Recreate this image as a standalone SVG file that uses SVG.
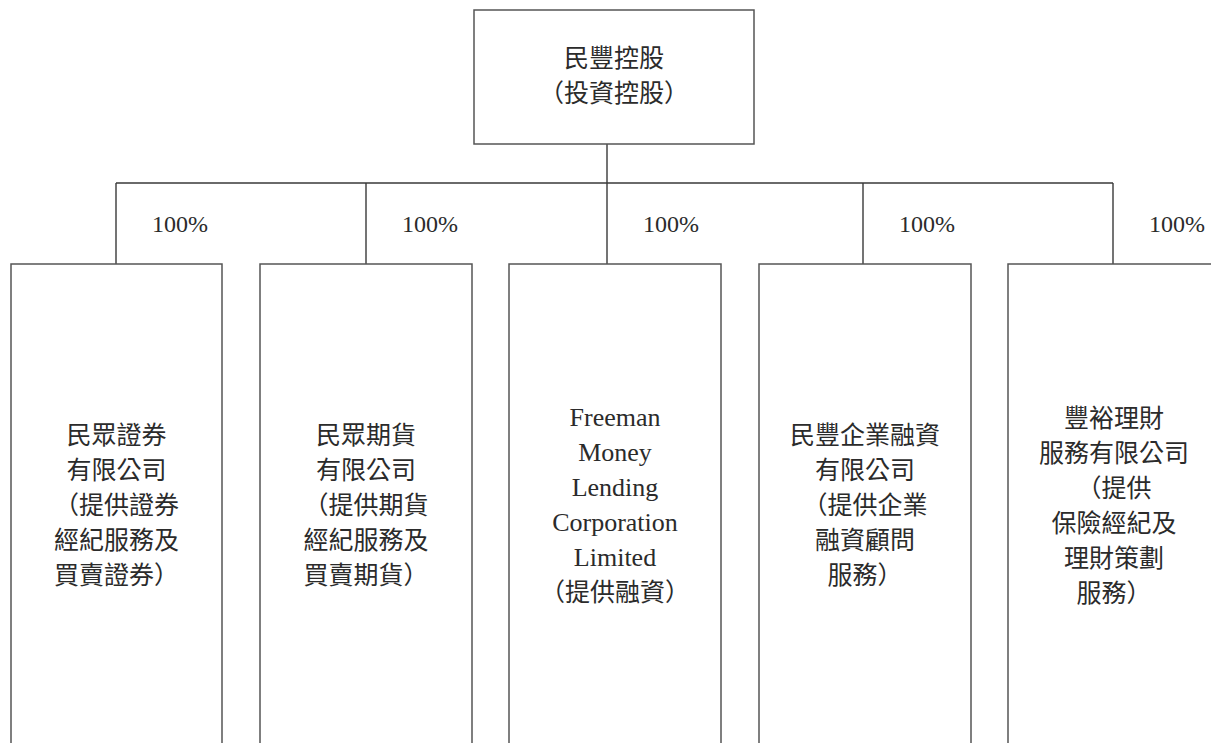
<svg xmlns="http://www.w3.org/2000/svg" width="1211" height="743" viewBox="0 0 1211 743">
<style>
.box{fill:#fff;stroke:#555;stroke-width:1.5}
.conn{fill:none;stroke:#3a3a3a;stroke-width:1.4}
.cjk{font-family:"Noto Sans CJK TC","Noto Sans CJK SC",sans-serif;font-size:25px;fill:#2b2b2b;text-anchor:middle}
.en{font-family:"Liberation Serif","Noto Sans CJK TC",serif;font-size:26px;fill:#2b2b2b;text-anchor:middle}
.pct{font-family:"Liberation Serif",serif;font-size:24px;fill:#2b2b2b;text-anchor:middle}
</style>
<rect width="1211" height="743" fill="#fff"/>
<g id="connectors">
<path class="conn" d="M607 144V183M116 183H1113M116 183V264M366 183V264M607 183V264M863 183V264M1113 183V264"/>
<text class="pct" x="180" y="232">100%</text>
<text class="pct" x="430" y="232">100%</text>
<text class="pct" x="671" y="232">100%</text>
<text class="pct" x="927" y="232">100%</text>
<text class="pct" x="1177" y="232">100%</text>
</g>
<g id="node-root">
<rect class="box" x="474" y="10" width="280" height="134"/>
<text class="cjk" x="614" y="67">民豐控股</text>
<text class="cjk" x="614" y="102">（投資控股）</text>
</g>
<g id="node-securities">
<rect class="box" x="11" y="264" width="211" height="500"/>
<text class="cjk" x="116.5" y="444">民眾證券</text>
<text class="cjk" x="116.5" y="479">有限公司</text>
<text class="cjk" x="116.5" y="514">（提供證券</text>
<text class="cjk" x="116.5" y="549">經紀服務及</text>
<text class="cjk" x="116.5" y="584">買賣證券）</text>
</g>
<g id="node-futures">
<rect class="box" x="260" y="264" width="212" height="500"/>
<text class="cjk" x="366" y="444">民眾期貨</text>
<text class="cjk" x="366" y="479">有限公司</text>
<text class="cjk" x="366" y="514">（提供期貨</text>
<text class="cjk" x="366" y="549">經紀服務及</text>
<text class="cjk" x="366" y="584">買賣期貨）</text>
</g>
<g id="node-lending">
<rect class="box" x="509" y="264" width="212" height="500"/>
<text class="en" x="615" y="426">Freeman</text>
<text class="en" x="615" y="461">Money</text>
<text class="en" x="615" y="496">Lending</text>
<text class="en" x="615" y="531">Corporation</text>
<text class="en" x="615" y="566">Limited</text>
<text class="cjk" x="615" y="601">（提供融資）</text>
</g>
<g id="node-finance">
<rect class="box" x="759" y="264" width="212" height="500"/>
<text class="cjk" x="865" y="444">民豐企業融資</text>
<text class="cjk" x="865" y="479">有限公司</text>
<text class="cjk" x="865" y="514">（提供企業</text>
<text class="cjk" x="865" y="549">融資顧問</text>
<text class="cjk" x="865" y="584">服務）</text>
</g>
<g id="node-wealth">
<rect class="box" x="1008" y="264" width="230" height="500"/>
<text class="cjk" x="1114" y="427">豐裕理財</text>
<text class="cjk" x="1114" y="462">服務有限公司</text>
<text class="cjk" x="1114" y="497">（提供</text>
<text class="cjk" x="1114" y="532">保險經紀及</text>
<text class="cjk" x="1114" y="567">理財策劃</text>
<text class="cjk" x="1114" y="602">服務）</text>
</g>
</svg>
